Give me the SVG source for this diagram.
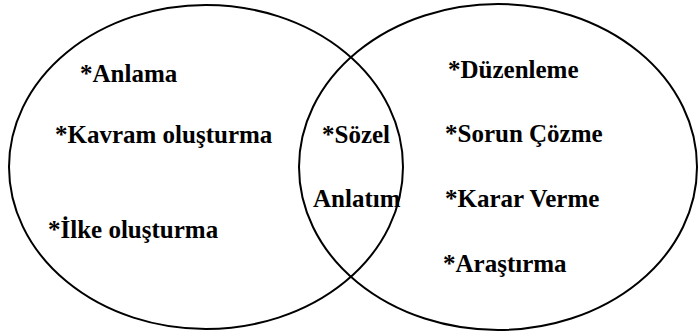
<svg xmlns="http://www.w3.org/2000/svg" width="699" height="333" viewBox="0 0 699 333">
<style>
.set{fill:none;stroke:#000;stroke-width:2}
.lbl{font-family:"Times New Roman","Liberation Serif",Tinos,serif;font-size:25px;font-weight:bold;fill:#000}
</style>
<rect width="699" height="333" fill="#fff"/>
<g id="left-set">
<ellipse class="set" cx="206" cy="167" rx="197" ry="162"/>
<text class="lbl" x="80" y="82">*Anlama</text>
<text class="lbl" x="55" y="143">*Kavram oluşturma</text>
<text class="lbl" x="48" y="238">*İlke oluşturma</text>
</g>
<g id="right-set">
<ellipse class="set" cx="498" cy="167" rx="199" ry="163"/>
<text class="lbl" x="448" y="78">*Düzenleme</text>
<text class="lbl" x="445" y="142">*Sorun Çözme</text>
<text class="lbl" x="445" y="207">*Karar Verme</text>
<text class="lbl" x="443" y="272">*Araştırma</text>
</g>
<g id="intersection">
<text class="lbl" x="322" y="143">*Sözel</text>
<text class="lbl" x="313" y="207">Anlatım</text>
</g>
<g id="connectors"/>
</svg>
